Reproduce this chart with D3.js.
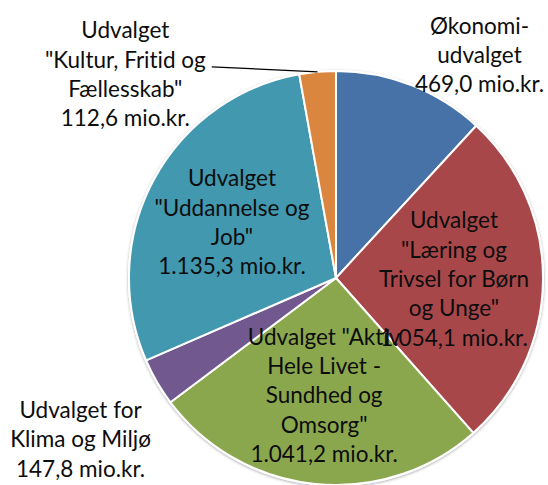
<!DOCTYPE html>
<html>
<head>
<meta charset="utf-8">
<script src="https://cdn.jsdelivr.net/npm/d3@7"></script>
<style>
  body { margin: 0; background: #fff; }
  svg { display: block; }
  .lbl { font-family: Lato, "Open Sans", sans-serif; font-size: 22.5px; fill: #0d0d0d;
         font-variant-ligatures: none; font-feature-settings: "liga" 0, "clig" 0; }
</style>
</head>
<body>
<div id="chart"></div>
<script>
"use strict";

// data
var names = ["Økonomiudvalget", "Læring og Trivsel for Børn og Unge", "Aktiv Hele Livet - Sundhed og Omsorg",
             "Klima og Miljø", "Uddannelse og Job", "Kultur, Fritid og Fællesskab"];
var values = [469.0, 1054.1, 1041.2, 147.8, 1135.3, 112.6];
var valueLabels = ["469,0 mio.kr.", "1.054,1 mio.kr.", "1.041,2 mio.kr.", "147,8 mio.kr.", "1.135,3 mio.kr.", "112,6 mio.kr."];
var labelLines = [
  ["Økonomi-", "udvalget"],
  ["Udvalget", "\"Læring og", "Trivsel for Børn", "og Unge\""],
  ["Udvalget \"Aktiv", "Hele Livet -", "Sundhed og", "Omsorg\""],
  ["Udvalget for", "Klima og Miljø"],
  ["Udvalget", "\"Uddannelse og", "Job\""],
  ["Udvalget", "\"Kultur, Fritid og", "Fællesskab\""]
];
var colors = ["#4672a8", "#a8474a", "#8aa74e", "#71588f", "#4298af", "#db863f"];

// layout
var W = 548, H = 485;
var cx = 336, cy = 278, r = 207;
var lineH = 29.3;
// labels outside the pie: angle in degrees (clockwise from 12 o'clock), distance as share of radius
var outside = { 0: {a: 32.8, k: 1.28}, 3: {a: 237.7, k: 1.46}, 5: {a: 314, k: 1.415, leader: true} };

var svg = d3.select("#chart").append("svg")
    .attr("width", W).attr("height", H);

var defs = svg.append("defs");
var f = defs.append("filter").attr("id", "shadow")
    .attr("x", "-10%").attr("y", "-10%").attr("width", "120%").attr("height", "120%");
f.append("feGaussianBlur").attr("in", "SourceAlpha").attr("stdDeviation", 1.5);
f.append("feOffset").attr("dx", 0).attr("dy", 1).attr("result", "b");
f.append("feComponentTransfer").append("feFuncA").attr("type", "linear").attr("slope", 0.35);
var fm = f.append("feMerge");
fm.append("feMergeNode");
fm.append("feMergeNode").attr("in", "SourceGraphic");

var pie = d3.pie().sort(null).value(function(d){ return d; });
var arcs = pie(values);
var arc = d3.arc().innerRadius(0).outerRadius(r);
var inner = d3.arc().innerRadius(r * 0.57).outerRadius(r * 0.57);

var g = svg.append("g").attr("transform", "translate(" + cx + "," + cy + ")");

g.append("circle").attr("r", r + 1).style("fill", "#fff").attr("filter", "url(#shadow)");

g.selectAll(".slice")
  .data(arcs).enter()
  .append("path").attr("class", "slice")
  .attr("d", arc)
  .style("fill", function(d, i){ return colors[i]; })
  .style("stroke", "#fff")
  .style("stroke-width", 2)
  .style("stroke-linejoin", "round");

function polar(deg, dist) {
  var a = deg * Math.PI / 180;
  return [dist * Math.sin(a), -dist * Math.cos(a)];
}

arcs.forEach(function(d, i) {
  var lines = labelLines[i].concat([valueLabels[i]]);
  var p;
  if (outside[i]) {
    p = polar(outside[i].a, r * outside[i].k);
  } else {
    p = inner.centroid(d);
  }
  var txt = g.append("text").attr("class", "lbl")
      .attr("text-anchor", "middle");
  lines.forEach(function(s, j) {
    txt.append("tspan")
      .attr("x", p[0])
      .attr("y", p[1] + (j - (lines.length - 1) / 2) * lineH)
      .attr("dy", "0.35em")
      .text(s);
  });

  if (outside[i] && outside[i].leader) {
    var mid = (d.startAngle + d.endAngle) / 2 * 180 / Math.PI;
    var start = polar(mid, r);
    var t2 = txt.selectAll("tspan").nodes()[1];
    var w2 = t2.getComputedTextLength();
    var yEnd = p[1] + (1 - (lines.length - 1) / 2) * lineH + 7;
    g.append("line")
      .attr("x1", start[0]).attr("y1", start[1])
      .attr("x2", p[0] + w2 / 2 + 6).attr("y2", yEnd)
      .style("stroke", "#000").style("stroke-width", 1.3);
  }
});
</script>
</body>
</html>
